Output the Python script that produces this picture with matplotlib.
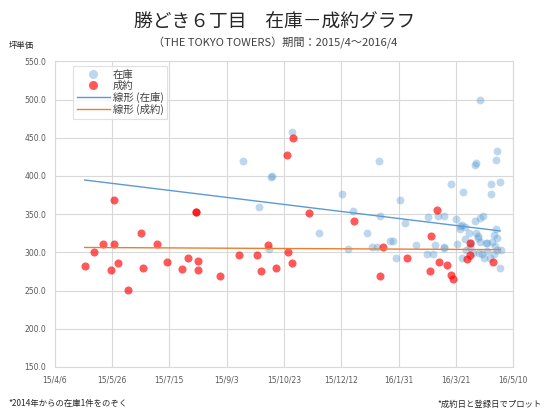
import matplotlib
matplotlib.use("Agg")
import matplotlib.pyplot as plt
import numpy as np
from matplotlib.lines import Line2D

plt.rcParams['font.family'] = ['Noto Sans CJK JP', 'DejaVu Sans']

# x values are days since 2015/4/6
tick_days = [0, 50, 100, 150, 200, 250, 300, 350, 400]
tick_labels = ['15/4/6', '15/5/26', '15/7/15', '15/9/3', '15/10/23',
               '15/12/12', '16/1/31', '16/3/21', '16/5/10']

# 在庫 (listing date, price per tsubo)
stock_day = [164, 177.9, 187, 189, 189.5, 206.9, 230.7, 250.7, 255.6, 260,
             272.7, 276.7, 281, 282.7, 283.8, 292.9, 295.1, 297.8, 301.6, 305.7,
             314.8, 324.8, 325.8, 329.8, 331.7, 334.3, 339.2, 339.5, 339.7, 345.5,
             349.7, 350.8, 353.3, 353.9, 355.6, 355.6, 356.5, 358.2, 358.2, 359,
             361.6, 362.6, 363.4, 364.8, 366.6, 366.9, 367.8, 367.8, 368.8, 369.5,
             370, 370.7, 370.7, 371.2, 373, 373.9, 374.4, 376.5, 376.8, 377,
             380, 380.3, 380.5, 381.7, 382.9, 382.9, 384, 384.8, 384.8, 385.5,
             385.7, 386, 388, 388.4, 389]
stock_val = [420, 359, 305, 399, 400, 458, 325, 376, 304, 354,
             325, 307, 307, 420, 347, 315, 315, 293, 368, 339,
             310, 298, 346.5, 297.5, 309.5, 347.6, 306, 306.5, 347.6, 389,
             343.5, 310.5, 330.2, 334.7, 335.6, 292, 379.6, 317, 333.4, 303,
             325.8, 307.5, 312.5, 298.7, 340.5, 414, 325.4, 416.8, 318.5, 322,
             299.5, 314, 345.2, 499, 297.8, 347.8, 292, 312.5, 312.8, 301.7,
             292, 375.7, 390, 313, 297.8, 323, 308.2, 330, 420.5, 318.7,
             433, 303, 280, 392, 303]

# 成約 (contract date, price per tsubo)
deal_day = [26.3, 34.4, 42.5, 49.2, 52, 52, 55, 64, 75, 77,
            89.3, 98.3, 111, 116, 123.3, 123.6, 125, 125, 143.9, 160.7,
            176.7, 180, 185.7, 193, 202.8, 204, 207, 207.8, 222, 260.9,
            283.8, 286.8, 307.7, 327.7, 328.6, 333.5, 335, 342, 346, 347,
            359.6, 362, 362, 382.6]
deal_val = [282, 301, 311, 277, 311, 368, 286, 251, 325, 279,
            311, 288, 278, 293, 352.2, 352.8, 289, 276.5, 269, 296,
            296, 276, 309, 279, 427, 300, 286, 450, 351, 341,
            269, 306.5, 292, 276, 321, 355, 288, 283, 270, 265,
            291, 312.5, 297, 287]

fig = plt.figure(figsize=(5.5, 4.13), dpi=100)
ax = fig.add_axes([0.0991, 0.1114, 0.8342, 0.7402])

blue = '#5b9bd5'
orange = '#ed7d31'

ax.scatter(stock_day, stock_val, s=32, color=blue, alpha=0.4, linewidths=0, zorder=3)
ax.scatter(deal_day, deal_val, s=34, color='#ff0000', alpha=0.65, linewidths=0, zorder=4)

x0, x1 = 26.3, 388.5
xs = np.array([x0, x1])
p = np.polyfit(stock_day, stock_val, 1)
ax.plot(xs, np.polyval(p, xs), color=blue, lw=1, zorder=5)
q = np.polyfit(deal_day, deal_val, 1)
ax.plot(xs, np.polyval(q, xs), color=orange, lw=1, zorder=5)

ax.set_xlim(0, 400)
ax.set_ylim(150, 550)
ax.set_xticks(tick_days)
ax.set_xticklabels(tick_labels, family='DejaVu Sans')
ax.set_yticks(np.arange(150, 551, 50))
ax.set_yticklabels(['%.1f' % v for v in np.arange(150, 551, 50)], family='DejaVu Sans')
ax.tick_params(length=0, labelsize=5.5, labelcolor='#595959', pad=6)
ax.grid(True, color='#d9d9d9', lw=0.8)
ax.set_axisbelow(True)
for s in ax.spines.values():
    s.set_color('#d9d9d9')
    s.set_linewidth(0.8)

handles = [
    Line2D([], [], ls='none', marker='o', ms=6.5, mfc=blue, mec='none', alpha=0.4),
    Line2D([], [], ls='none', marker='o', ms=6.5, mfc='#ff0000', mec='none', alpha=0.65),
    Line2D([], [], color=blue, lw=1),
    Line2D([], [], color=orange, lw=1),
]
labels = ['在庫', '成約', '線形 (在庫)', '線形 (成約)']
leg = ax.legend(handles, labels, loc='upper left', bbox_to_anchor=(0.04, 0.985),
                fontsize=7.5, frameon=True, fancybox=False, edgecolor='#d9d9d9',
                borderpad=0.35, labelspacing=0.1, handlelength=3.2,
                handletextpad=0.3, borderaxespad=0)
leg.get_frame().set_linewidth(0.8)
for t in leg.get_texts():
    t.set_color('#404040')

fig.text(0.5, 0.945, '勝どき６丁目　在庫－成約グラフ', ha='center', va='center',
         fontsize=13.5, color='#262626')
fig.text(0.5, 0.897, '（THE TOKYO TOWERS）期間：2015/4～2016/4', ha='center',
         va='center', fontsize=8, color='#404040')
fig.text(0.015, 0.89, '坪単価', ha='left', va='center', fontsize=6, color='#262626')
fig.text(0.015, 0.022, '*2014年からの在庫1件をのぞく', ha='left', va='center',
         fontsize=6, color='#262626')
fig.text(0.985, 0.022, '*成約日と登録日でプロット', ha='right', va='center',
         fontsize=6, color='#262626')

fig.savefig('out.png', dpi=100)
